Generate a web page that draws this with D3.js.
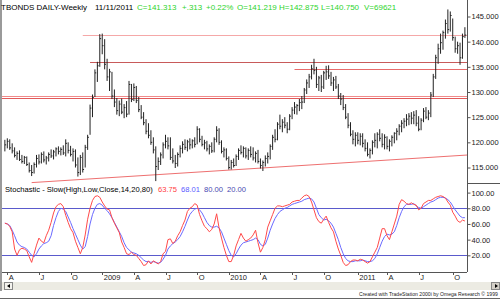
<!DOCTYPE html>
<html>
<head>
<meta charset="utf-8">
<script src="https://cdn.jsdelivr.net/npm/d3@7"></script>
<style>
  body { margin: 0; background: #fff; }
  svg { display: block; font-family: Arial, "Liberation Sans", sans-serif; }
</style>
</head>
<body>
<svg id="chart" width="500" height="299"></svg>
<script>
// weekly T-bond bars, first bar = week ending Fri 28 Mar 2008
const firstWeek = new Date(2008, 2, 28);

const high = [
  120.5,120.8,120.6,119.8,119.0,118.2,118.4,117.5,117.3,117.2,
  116.0,115.5,116.0,117.5,117.6,118.0,118.2,117.3,118.0,118.6,
  118.5,119.0,119.2,119.0,119.4,120.6,120.0,119.3,118.8,118.6,
  117.0,117.5,118.0,119.5,121.5,127.5,129.5,134.5,136.0,141.5,
  141.6,140.5,136.6,134.6,134.0,130.5,128.8,128.3,128.7,127.6,
  128.2,132.2,131.6,131.7,131.2,129.0,127.4,126.0,124.6,123.8,
  122.4,121.0,119.2,117.0,118.0,120.0,121.5,121.0,121.0,118.8,
  117.5,118.0,119.4,120.2,120.6,120.5,120.8,120.6,121.0,123.2,
  122.8,121.3,120.5,120.3,119.6,120.0,121.0,123.2,122.8,120.4,
  119.0,118.8,117.2,116.5,116.8,117.6,118.8,119.4,119.2,119.0,
  118.8,119.2,119.0,118.2,118.5,116.8,116.4,117.4,118.0,119.6,
  121.5,122.6,124.0,125.5,124.6,125.0,124.0,125.6,127.0,128.0,
  127.6,128.6,129.2,130.8,132.5,133.6,135.4,136.6,135.0,133.2,
  133.4,134.2,135.2,135.3,134.0,133.0,133.2,131.6,129.8,129.4,
  127.6,125.8,124.0,122.4,122.0,122.0,121.8,121.8,120.6,120.0,
  118.8,120.4,121.8,122.0,122.6,121.8,121.6,121.2,120.6,121.4,
  122.0,122.8,123.6,124.4,124.8,125.6,125.8,126.0,126.2,126.4,
  125.2,124.8,126.8,127.0,126.4,130.0,133.6,137.4,139.6,141.6,
  142.2,144.4,146.4,146.0,144.6,141.0,140.0,139.8,141.6,142.875
];
const low = [
  118.2,118.8,118.5,117.8,117.0,116.5,116.3,115.8,115.7,115.3,
  114.0,113.3,113.8,115.0,115.6,115.8,116.0,115.6,116.2,116.9,
  116.6,117.2,117.6,117.4,117.5,117.2,117.8,117.2,116.2,115.0,
  113.2,113.5,114.0,115.0,118.5,121.5,125.0,129.0,132.0,135.0,
  137.5,134.5,132.2,130.2,128.6,127.0,125.5,125.2,125.6,124.8,
  125.0,125.5,128.0,128.2,127.8,126.0,124.6,123.4,121.6,120.8,
  119.5,117.8,112.3,114.5,115.5,116.8,118.8,118.6,116.5,115.8,
  114.9,115.2,117.0,117.8,118.5,118.2,118.6,118.8,119.0,119.6,
  120.0,119.2,118.6,118.2,117.6,117.9,118.0,120.0,119.5,117.8,
  117.0,116.4,114.6,114.6,115.0,115.3,116.5,117.6,117.0,116.8,
  116.5,117.0,116.4,116.0,115.8,114.8,114.3,115.2,115.8,116.6,
  118.5,120.0,120.4,122.6,122.0,122.8,121.8,122.4,124.6,125.6,
  125.5,126.2,126.6,127.8,129.6,130.8,132.5,133.5,130.8,130.2,
  130.0,130.6,132.4,132.6,131.2,130.2,130.6,128.6,127.4,126.4,
  124.6,122.8,121.2,119.6,119.2,119.6,119.4,119.0,118.2,117.2,
  116.8,117.6,119.0,118.8,120.2,119.0,118.6,118.6,118.2,119.2,
  119.8,120.4,121.4,122.0,122.8,123.2,123.4,123.6,123.6,123.2,
  122.2,122.4,124.0,124.6,124.4,125.0,129.0,132.6,135.6,137.6,
  138.4,140.6,141.6,142.0,140.2,137.8,137.6,135.4,136.6,140.75
];
const close = [
  119.5,120.2,118.9,118.3,117.4,117.8,116.6,116.2,117.0,115.6,
  114.4,114.0,115.6,116.8,116.1,117.6,116.5,116.9,117.6,117.3,
  118.1,118.7,118.2,118.6,117.9,119.8,118.4,117.6,118.2,115.5,
  114.0,117.0,114.6,119.0,121.0,126.8,128.9,133.8,135.2,140.6,
  139.2,135.5,133.0,134.0,129.2,128.0,126.3,127.6,126.0,126.9,
  125.6,131.5,128.5,130.9,128.3,126.5,125.0,123.9,122.2,121.4,
  120.0,118.5,115.2,116.2,117.5,119.5,120.2,119.3,117.0,116.3,
  115.8,117.6,118.8,119.6,119.0,120.1,119.5,120.3,119.6,122.6,
  120.6,119.6,119.9,118.7,119.2,118.3,120.6,122.4,120.0,118.2,
  118.5,116.8,115.0,116.0,115.4,117.2,118.4,118.0,118.8,117.3,
  118.4,117.6,116.9,117.8,116.2,115.4,116.0,116.8,117.2,119.2,
  121.0,120.6,123.6,123.2,124.0,123.4,122.6,125.2,126.4,127.0,
  127.3,127.9,128.0,130.4,131.8,133.0,134.6,134.3,131.5,132.8,
  131.0,133.8,134.0,133.2,131.8,132.4,131.0,129.2,128.6,126.9,
  125.0,123.4,121.6,120.6,121.4,120.4,121.2,119.8,118.8,117.6,
  118.4,120.0,120.4,121.6,120.8,119.6,121.0,119.2,120.2,121.0,
  121.8,122.2,123.2,123.8,124.2,124.6,125.2,124.8,125.4,123.8,
  122.6,124.4,126.2,125.0,125.8,129.4,133.0,136.8,138.6,139.8,
  141.8,143.6,142.4,145.2,140.8,138.6,139.2,136.8,141.0,141.313
];

// Stochastic slow %K (red) and %D (blue)
const slowK = [
  61,60,57,50,28,20,27,29,28,26, 18,11,22,33,42,38,36,45,52,62,
  74,82,85,86,82,71,62,54,49,38, 30,22,30,46,66,80,90,95,96,94,
  88,83,79,78,68,61,55,49,37,30, 22,21,24,21,20,16,12,7,8,13,
  9,13,11,9,12,22,25,40,41,35, 38,45,50,58,65,76,80,82,86,84,
  72,64,57,54,50,53,60,73,55,42, 30,20,12,12,20,32,40,48,42,38,
  40,42,46,52,36,24,30,40,56,64, 72,80,83,83,82,83,84,85,88,89,
  90,90,93,96,97,95,88,78,68,63, 61,66,70,62,55,50,38,28,20,11,
  7,8,12,14,14,13,15,14,12,10, 12,18,24,30,42,54,54,45,40,50,
  60,70,85,91,89,86,85,87,85,84, 78,80,86,88,90,90,92,94,95,96,
  95,93,88,84,75,70,64,62,65,63.75
];
const slowD = [
  61,60,58,52,45,37,33,31,30,28, 24,20,18,22,28,32,35,36,38,45,
  58,68,76,80,79,76,69,62,54,47, 40,33,28,31,44,60,72,80,85,86,
  84,80,77,73,68,62,56,50,44,36, 30,27,24,23,22,20,17,14,12,12,
  11,12,11,10,11,15,20,28,32,35, 37,40,44,50,57,65,72,76,79,80,
  78,74,68,62,58,56,56,57,55,50, 42,34,26,20,18,22,28,33,36,37,
  38,39,40,42,40,34,32,34,42,52, 60,67,72,76,78,80,81,83,85,86,
  87,88,89,91,92,93,92,88,80,72, 68,65,66,64,61,56,48,40,30,22,
  16,13,12,12,13,13,13,14,13,12, 12,13,16,22,30,38,44,47,46,47,
  50,58,68,76,82,85,85,85,86,83, 81,80,82,84,86,88,89,91,93,94,
  94,93,91,88,83,78,74,70,68,68.01
];

// drawn support / resistance levels: [first week index, price]
const levels = [[32, 141.4], [35, 136.0], [119, 134.5], [-3, 129.2], [-3, 128.8]];
const levelColors = ["#f5a8a8", "#c85a5a", "#e86a6a", "#f08a8a", "#e25a5a"];
const trend = [[11, 112.0], [189, 117.45]];

const priceTicks = [115, 120, 125, 130, 135, 140, 145];
const stochTicks = [20, 40, 60, 80, 100];
const stochLevels = [80, 20];
const quarterLetters = {3: "A", 6: "J", 9: "O"};

const headText = [
  ["TBONDS DAILY-Weekly", 1, "#000"], ["11/11/2011", 95, "#000"],
  ["C=141.313", 137, "#2dd42d"], ["+.313", 182, "#2dd42d"], ["+0.22%", 206, "#2dd42d"],
  ["O=141.219", 237, "#2dd42d"], ["H=142.875", 279, "#2dd42d"],
  ["L=140.750", 321, "#2dd42d"], ["V=69621", 364, "#2dd42d"]
];

const svg = d3.select("#chart");
const W = 500, axisX = 467;

const weeks = close.map((d, i) => d3.timeDay.offset(firstWeek, 7 * i));

const x = d3.scaleLinear().domain([0, close.length - 1]).range([4.87, 464.9]);
const yP = d3.scaleLinear().domain([115, 145]).range([167.5, 16.5]);
const yS = d3.scaleLinear().domain([0, 100]).range([271, 192.6]);

// left window border
svg.append("rect").attr("x", 0).attr("y", 0).attr("width", 2).attr("height", 291).attr("fill", "#9a9a9a");

// first week of each quarter month
const qIdx = weeks.map((d, i) => i).filter(i => i > 0 && weeks[i].getMonth() !== weeks[i - 1].getMonth() && weeks[i].getMonth() % 3 === 0);

// levels
svg.append("g").selectAll("line").data(levels).join("line")
  .attr("x1", d => Math.max(x(d[0]), 2)).attr("x2", axisX)
  .attr("y1", d => Math.round(yP(d[1])) + 0.5).attr("y2", d => Math.round(yP(d[1])) + 0.5)
  .attr("stroke", (d, i) => levelColors[i]).attr("stroke-width", 1);

const tSlope = (trend[1][1] - trend[0][1]) / (trend[1][0] - trend[0][0]);
svg.append("line")
  .attr("x1", x(trend[0][0])).attr("y1", yP(trend[0][1]))
  .attr("x2", axisX).attr("y2", yP(trend[0][1] + tSlope * (x.invert(axisX) - trend[0][0])))
  .attr("stroke", "#ee7070").attr("stroke-width", 1);

// price bars
const bars = svg.append("g");
bars.selectAll("line.hl").data(close).join("line").attr("class", "hl")
  .attr("x1", (d, i) => x(i)).attr("x2", (d, i) => x(i))
  .attr("y1", (d, i) => yP(high[i])).attr("y2", (d, i) => yP(low[i]))
  .attr("stroke", "#222").attr("stroke-width", 1);
bars.selectAll("line.c").data(close).join("line").attr("class", "c")
  .attr("x1", (d, i) => x(i)).attr("x2", (d, i) => x(i) + 1.3)
  .attr("y1", d => yP(d)).attr("y2", d => yP(d))
  .attr("stroke", "#222").attr("stroke-width", 1);

// title line
svg.append("g").selectAll("text").data(headText).join("text")
  .attr("x", d => d[1]).attr("y", 10).attr("font-size", 8).attr("fill", d => d[2]).text(d => d[0]);

// price axis
svg.append("line").attr("x1", axisX + 0.5).attr("x2", axisX + 0.5).attr("y1", 0).attr("y2", 272).attr("stroke", "#555");
svg.append("line").attr("x1", axisX).attr("x2", W).attr("y1", 183.5).attr("y2", 183.5).attr("stroke", "#555");
const pAxis = svg.append("g").attr("transform", `translate(${axisX + 0.5},0)`)
  .call(d3.axisRight(yP).tickValues(priceTicks).tickSize(3).tickPadding(1).tickFormat(d3.format(".3f")));
pAxis.select(".domain").remove();
pAxis.selectAll("line").attr("stroke", "#555");
pAxis.selectAll("text").attr("font-size", 7.5).attr("fill", "#222").attr("font-family", "Arial, sans-serif");

// stochastic panel
svg.append("text").attr("x", 5).attr("y", 192).attr("font-size", 7.6).attr("fill", "#000")
  .text("Stochastic - Slow(High,Low,Close,14,20,80)");
const stochHead = [["63.75", 158, "#ff4040"], ["68.01", 181, "#5a5aff"], ["80.00", 204, "#4848b0"], ["20.00", 227, "#4848b0"]];
svg.append("g").selectAll("text").data(stochHead).join("text")
  .attr("x", d => d[1]).attr("y", 192).attr("font-size", 7.6).attr("fill", d => d[2]).text(d => d[0]);

svg.append("g").selectAll("line").data(stochLevels).join("line")
  .attr("x1", 2).attr("x2", axisX).attr("y1", d => Math.round(yS(d)) + 0.5).attr("y2", d => Math.round(yS(d)) + 0.5)
  .attr("stroke", "#5a5acc").attr("stroke-width", 1);

const sLine = (arr) => d3.line().x((d, i) => x(i)).y(d => yS(d))(arr);
svg.append("path").attr("d", sLine(slowD)).attr("fill", "none").attr("stroke", "#6a6aff").attr("stroke-width", 1);
svg.append("path").attr("d", sLine(slowK)).attr("fill", "none").attr("stroke", "#ff4a4a").attr("stroke-width", 1);

const sAxis = svg.append("g").attr("transform", `translate(${axisX + 0.5},0)`)
  .call(d3.axisRight(yS).tickValues(stochTicks).tickSize(3).tickPadding(1).tickFormat(d3.format(".2f")));
sAxis.select(".domain").remove();
sAxis.selectAll("line").attr("stroke", "#555");
sAxis.selectAll("text").attr("font-size", 7.5).attr("fill", "#222").attr("font-family", "Arial, sans-serif");

// date axis
svg.append("line").attr("x1", 2).attr("x2", axisX).attr("y1", 272.5).attr("y2", 272.5).attr("stroke", "#555");
const dAxis = svg.append("g");
dAxis.selectAll("line").data(qIdx).join("line")
  .attr("x1", i => Math.round(x(i)) + 0.5).attr("x2", i => Math.round(x(i)) + 0.5)
  .attr("y1", 272).attr("y2", 275).attr("stroke", "#555");
dAxis.selectAll("text").data(qIdx).join("text")
  .attr("x", i => x(i) + 1.5).attr("y", 280).attr("font-size", 7.5).attr("fill", "#222")
  .text(i => weeks[i].getMonth() === 0 ? weeks[i].getFullYear() : quarterLetters[weeks[i].getMonth()]);

// scroll bar and footer
svg.append("rect").attr("x", 2).attr("y", 282).attr("width", W - 2).attr("height", 8).attr("fill", "#ecebe3");
svg.append("rect").attr("x", 4.5).attr("y", 282.5).attr("width", 8).attr("height", 7).attr("fill", "#f4f3ee").attr("stroke", "#888");
svg.append("rect").attr("x", 491.5).attr("y", 282.5).attr("width", 8).attr("height", 7).attr("fill", "#d4d0c8").attr("stroke", "#888");
svg.append("path").attr("d", "M10,284 L7,286 L10,288 Z").attr("fill", "#000");
svg.append("path").attr("d", "M495,284 L498,286 L495,288 Z").attr("fill", "#000");
svg.append("text").attr("x", 359).attr("y", 296).attr("font-size", 5.1).attr("fill", "#222")
  .text("Created with TradeStation 2000i by Omega Research \u00a9 1999");
svg.append("line").attr("x1", 0).attr("x2", W).attr("y1", 298.5).attr("y2", 298.5).attr("stroke", "#666");
</script>
</body>
</html>
